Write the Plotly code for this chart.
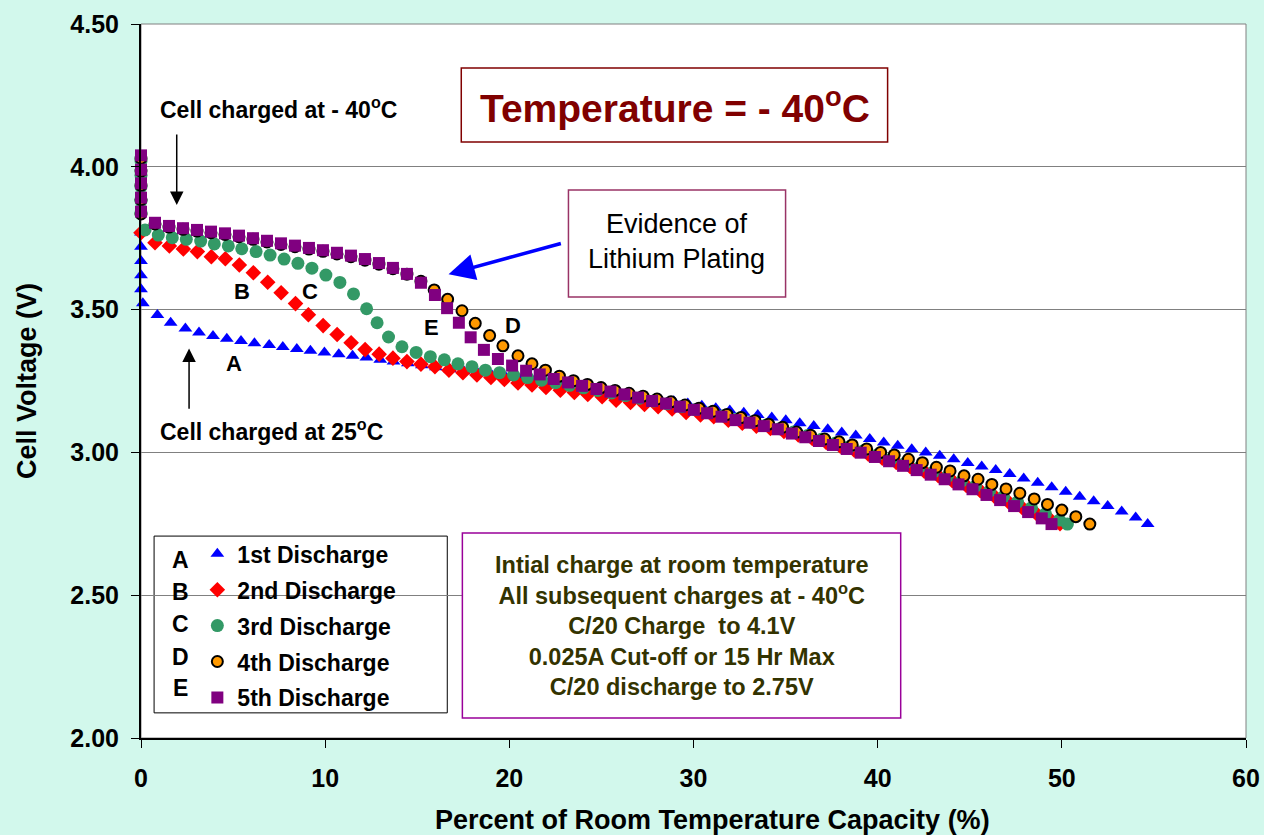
import plotly.graph_objects as go

# ---------------- data ----------------
a_x = [0, 0, 0, 0, 0, 0.10, 0.89, 1.61, 2.41, 3.15, 3.91, 4.66, 5.43, 6.16, 6.96, 7.70, 8.46, 9.20,
       9.96, 10.74, 11.49, 12.24, 12.99, 13.71, 14.49, 15.25, 16.01, 16.77, 17.53, 18.29, 19.05,
       19.81, 20.57, 21.33, 22.09, 22.85, 23.61, 24.37, 25.13, 25.89, 26.65, 27.41, 28.17, 28.93,
       29.69, 30.45, 31.21, 31.97, 32.73, 33.49, 34.25, 35.01, 35.77, 36.53, 37.29, 38.05, 38.81,
       39.57, 40.33, 41.09, 41.85, 42.61, 43.37, 44.13, 44.89, 45.65, 46.41, 47.17, 47.93, 48.69,
       49.45, 50.21, 50.97, 51.73, 52.49, 53.25, 54.01, 54.66]
a_y = [3.770, 3.720, 3.670, 3.620, 3.571, 3.522, 3.481, 3.454, 3.434, 3.420, 3.408, 3.398, 3.390,
       3.382, 3.376, 3.369, 3.362, 3.356, 3.350, 3.344, 3.338, 3.332, 3.324, 3.318, 3.312, 3.305,
       3.298, 3.291, 3.284, 3.277, 3.270, 3.263, 3.256, 3.249, 3.242, 3.235, 3.228, 3.221, 3.214,
       3.207, 3.200, 3.193, 3.186, 3.179, 3.171, 3.163, 3.155, 3.147, 3.139, 3.131, 3.122, 3.113,
       3.102, 3.092, 3.081, 3.070, 3.059, 3.047, 3.035, 3.023, 3.011, 3.000, 2.988, 2.976, 2.963,
       2.951, 2.938, 2.924, 2.909, 2.894, 2.878, 2.862, 2.845, 2.829, 2.812, 2.793, 2.772, 2.749]

b_x = [0, 0.76, 1.54, 2.30, 3.06, 3.82, 4.58, 5.34, 6.10, 6.88, 7.61, 8.39, 9.09, 9.89, 10.65,
       11.41, 12.17, 12.93, 13.68, 14.44, 15.20, 15.96, 16.72, 17.48, 18.24, 19.00, 19.73, 20.47,
       21.23, 21.99, 22.77, 23.53, 24.26, 25.04, 25.80, 26.58, 27.34, 28.08, 28.84, 29.60, 30.38,
       31.10, 31.89, 32.65, 33.41, 34.18, 34.91, 35.69, 36.45, 37.21, 37.97, 38.73, 39.49, 40.25,
       41.01, 41.77, 42.53, 43.29, 44.05, 44.81, 45.57, 46.33, 47.09, 47.85, 48.61, 49.37, 49.90]
b_y = [3.769, 3.734, 3.723, 3.712, 3.703, 3.685, 3.678, 3.656, 3.629, 3.596, 3.559, 3.521, 3.482,
       3.444, 3.413, 3.384, 3.360, 3.344, 3.330, 3.318, 3.309, 3.300, 3.288, 3.279, 3.271, 3.262,
       3.255, 3.243, 3.236, 3.227, 3.218, 3.210, 3.203, 3.195, 3.183, 3.175, 3.168, 3.160, 3.152,
       3.140, 3.131, 3.125, 3.113, 3.102, 3.092, 3.084, 3.073, 3.061, 3.049, 3.035, 3.022, 3.008,
       2.994, 2.980, 2.965, 2.950, 2.934, 2.918, 2.901, 2.884, 2.866, 2.847, 2.827, 2.806, 2.786,
       2.765, 2.750]

c_x = [0, 0, 0, 0, 0, 0.22, 0.94, 1.70, 2.46, 3.24, 3.98, 4.74, 5.47, 6.25, 7.01, 7.77, 8.52, 9.28,
       10.04, 10.80, 11.54, 12.25, 12.82, 13.44, 14.17, 14.94, 15.71, 16.47, 17.21, 17.97, 18.70,
       19.47, 20.23, 20.99, 21.75, 22.51, 23.27, 24.03, 24.79, 25.55, 26.31, 27.07, 27.83, 28.59,
       29.35, 30.11, 30.87, 31.63, 32.39, 33.15, 33.91, 34.67, 35.43, 36.19, 36.95, 37.71, 38.47,
       39.23, 39.99, 40.75, 41.51, 42.27, 43.03, 43.79, 44.55, 45.31, 46.07, 46.83, 47.59, 48.35,
       49.11, 49.87, 50.30]
c_y = [3.840, 3.880, 3.930, 3.970, 4.020, 3.779, 3.761, 3.752, 3.746, 3.740, 3.730, 3.723, 3.713,
       3.703, 3.691, 3.677, 3.662, 3.645, 3.621, 3.595, 3.555, 3.503, 3.454, 3.404, 3.370, 3.350,
       3.335, 3.324, 3.310, 3.300, 3.288, 3.279, 3.271, 3.262, 3.253, 3.244, 3.235, 3.226, 3.217,
       3.208, 3.199, 3.190, 3.180, 3.170, 3.160, 3.150, 3.139, 3.128, 3.117, 3.106, 3.095, 3.083,
       3.071, 3.059, 3.046, 3.033, 3.020, 3.006, 2.992, 2.978, 2.963, 2.948, 2.932, 2.916, 2.899,
       2.882, 2.864, 2.845, 2.826, 2.806, 2.785, 2.763, 2.749]

d_x = [0, 0, 0, 0, 0, 0.76, 1.52, 2.28, 3.04, 3.80, 4.56, 5.32, 6.08, 6.84, 7.60, 8.36, 9.12, 9.88,
       10.64, 11.40, 12.16, 12.92, 13.68, 14.44, 15.20, 15.92, 16.65, 17.43, 18.15, 18.93, 19.65,
       20.47, 21.23, 21.96, 22.72, 23.48, 24.24, 24.98, 25.74, 26.50, 27.26, 28.02, 28.78, 29.54,
       30.30, 31.06, 31.82, 32.58, 33.34, 34.08, 34.84, 35.60, 36.36, 37.12, 37.90, 38.62, 39.40,
       40.16, 40.90, 41.67, 42.43, 43.19, 43.93, 44.69, 45.45, 46.20, 46.97, 47.72, 48.50, 49.22,
       50.00, 50.76, 51.52]
d_y = [3.835, 3.885, 3.935, 3.985, 4.030, 3.800, 3.789, 3.781, 3.775, 3.769, 3.763, 3.755, 3.746,
       3.737, 3.728, 3.720, 3.712, 3.704, 3.695, 3.685, 3.673, 3.659, 3.643, 3.624, 3.599, 3.569,
       3.536, 3.496, 3.452, 3.409, 3.373, 3.338, 3.310, 3.288, 3.267, 3.251, 3.238, 3.227, 3.217,
       3.207, 3.197, 3.187, 3.177, 3.166, 3.155, 3.144, 3.133, 3.122, 3.111, 3.099, 3.088, 3.071,
       3.060, 3.047, 3.037, 3.026, 3.012, 3.000, 2.991, 2.976, 2.964, 2.948, 2.935, 2.918, 2.906,
       2.888, 2.872, 2.857, 2.837, 2.818, 2.798, 2.775, 2.749]

e_x = [0, 0, 0, 0, 0, 0.76, 1.52, 2.28, 3.04, 3.80, 4.56, 5.32, 6.08, 6.84, 7.60, 8.36, 9.12, 9.88,
       10.64, 11.40, 12.16, 12.92, 13.68, 14.44, 15.20, 15.96, 16.62, 17.26, 17.90, 18.62, 19.38,
       20.15, 20.91, 21.65, 22.41, 23.19, 23.95, 24.73, 25.49, 26.25, 26.99, 27.75, 28.51, 29.26,
       30.02, 30.74, 31.52, 32.28, 33.04, 33.82, 34.58, 35.34, 36.07, 36.81, 37.57, 38.32, 39.08,
       39.85, 40.62, 41.38, 42.12, 42.88, 43.64, 44.39, 45.15, 45.91, 46.65, 47.41, 48.17, 48.91,
       49.44]
e_y = [4.040, 3.990, 3.942, 3.892, 3.843, 3.804, 3.793, 3.785, 3.779, 3.773, 3.767, 3.759, 3.750,
       3.741, 3.732, 3.724, 3.716, 3.708, 3.699, 3.689, 3.677, 3.663, 3.646, 3.625, 3.594, 3.551,
       3.505, 3.454, 3.403, 3.359, 3.327, 3.304, 3.286, 3.273, 3.257, 3.245, 3.233, 3.222, 3.213,
       3.203, 3.192, 3.180, 3.171, 3.160, 3.149, 3.137, 3.125, 3.113, 3.104, 3.092, 3.081, 3.066,
       3.053, 3.040, 3.026, 3.012, 2.999, 2.984, 2.969, 2.953, 2.938, 2.922, 2.906, 2.888, 2.871,
       2.851, 2.833, 2.812, 2.791, 2.769, 2.749]

series_names = ["1st Discharge", "2nd Discharge", "3rd Discharge", "4th Discharge", "5th Discharge"]
series_letters = ["A", "B", "C", "D", "E"]
x_ticks = [0, 10, 20, 30, 40, 50, 60]
y_ticks = [2.00, 2.50, 3.00, 3.50, 4.00, 4.50]

# ---------------- figure ----------------
FONT = "Arial, Liberation Sans, sans-serif"
BG = "#d2f8ec"

styles = [
    dict(symbol="triangle-up", size=12, color="#0000ff"),
    dict(symbol="diamond", size=12, color="#ff0000"),
    dict(symbol="circle", size=13, color="#339966"),
    dict(symbol="circle", size=11, color="#ff9900", line=dict(color="black", width=2)),
    dict(symbol="square", size=12, color="#800080"),
]
data = [(a_x, a_y), (b_x, b_y), (c_x, c_y), (d_x, d_y), (e_x, e_y)]

fig = go.Figure()
for (xs, ys), name, st in zip(data, series_names, styles):
    fig.add_trace(go.Scatter(x=xs, y=ys, mode="markers", name=name, marker=st,
                             legendgroup=name, cliponaxis=False))

fig.update_layout(
    width=1264, height=835,
    margin=dict(l=141, r=18, t=24, b=97),
    paper_bgcolor=BG, plot_bgcolor="white",
    font=dict(family=FONT, color="black"),
    showlegend=True,
    legend=dict(x=0.051, y=0.288, xanchor="left", yanchor="top",
                bgcolor="rgba(0,0,0,0)", borderwidth=0,
                font=dict(size=23, weight="bold", family=FONT),
                tracegroupgap=3, itemsizing="trace"),
)

fig.update_xaxes(range=[0, 60], tickvals=x_ticks, ticks="outside", ticklen=8, tickwidth=1,
                 tickcolor="black", showline=True, linecolor="black", linewidth=2,
                 showgrid=False, zeroline=False, automargin=False, ticklabelstandoff=9,
                 tickfont=dict(size=25, weight="bold", family=FONT))
fig.update_yaxes(range=[2.0, 4.5], tickvals=y_ticks, tickformat=".2f", ticks="outside",
                 ticklen=8, tickwidth=1, tickcolor="black", showline=True, linecolor="black",
                 linewidth=2, showgrid=True, gridcolor="#808080", gridwidth=1, zeroline=False,
                 automargin=False, ticklabelstandoff=7,
                 tickfont=dict(size=25, weight="bold", family=FONT),
                 title=dict(text="Cell Voltage (V)",
                            font=dict(size=27, weight="bold", family=FONT), standoff=26))

# x-axis title (placed as in the original, slightly right of centre)
fig.add_annotation(x=0.517, y=-0.1145, xref="paper", yref="paper", yanchor="middle",
                   text="Percent of Room Temperature Capacity (%)", showarrow=False,
                   font=dict(size=27, weight="bold", family=FONT))

# plot border (right side)
fig.add_shape(type="rect", xref="x domain", yref="y domain", x0=0, x1=1, y0=0, y1=1,
              line=dict(color="#808080", width=1), layer="below")

# legend frame and letters
fig.add_shape(type="rect", xref="x", yref="y", x0=0.71, x1=16.63, y0=2.088, y1=2.707,
              line=dict(color="black", width=1), fillcolor="white", layer="below")
letter_y = [2.623, 2.511, 2.399, 2.284, 2.175]
for L, ly in zip(series_letters, letter_y):
    fig.add_annotation(x=2.17, y=ly, text=L, showarrow=False, xref="x", yref="y",
                       font=dict(size=23, weight="bold", family=FONT))

# curve letters
curve_labels = [("A", 5.05, 3.31), ("B", 5.49, 3.562), ("C", 9.18, 3.565),
                ("E", 15.76, 3.436), ("D", 20.22, 3.446)]
for L, lx, ly in curve_labels:
    fig.add_annotation(x=lx, y=ly, text=L, showarrow=False,
                       font=dict(size=22, weight="bold", family=FONT))

# cell charged notes
fig.add_annotation(x=0.92, y=4.206, text="Cell charged at - 40<sup>o</sup>C", showarrow=False,
                   xanchor="left", font=dict(size=23, weight="bold", family=FONT))
fig.add_annotation(x=0.92, y=3.078, text="Cell charged at 25<sup>o</sup>C", showarrow=False,
                   xanchor="left", font=dict(size=23, weight="bold", family=FONT))
# arrows
fig.add_annotation(x=1.94, y=3.866, ax=1.94, ay=4.118, axref="x", ayref="y", xref="x", yref="y",
                   text="", showarrow=True, arrowhead=2, arrowsize=1.8, arrowwidth=1.5,
                   arrowcolor="black")
fig.add_annotation(x=2.61, y=3.364, ax=2.61, ay=3.148, axref="x", ayref="y", xref="x", yref="y",
                   text="", showarrow=True, arrowhead=2, arrowsize=1.8, arrowwidth=1.5,
                   arrowcolor="black")
fig.add_annotation(x=16.7, y=3.624, ax=22.88, ay=3.733, axref="x", ayref="y", xref="x", yref="y",
                   text="", showarrow=True, arrowhead=2, arrowsize=1.5, arrowwidth=3.5,
                   arrowcolor="#0000ff")

# temperature box
fig.add_shape(type="rect", x0=17.39, x1=40.54, y0=4.087, y1=4.346,
              line=dict(color="#800000", width=1.5), fillcolor="white")
fig.add_annotation(x=28.97, y=4.216, text="Temperature = - 40<sup>o</sup>C", showarrow=False,
                   font=dict(size=39, weight="bold", family=FONT, color="#800000"))

# evidence box
fig.add_shape(type="rect", x0=23.21, x1=35.0, y0=3.544, y1=3.919,
              line=dict(color="#993366", width=1.5), fillcolor="white")
fig.add_annotation(x=29.1, y=3.738, text="Evidence of<br>Lithium Plating", showarrow=False,
                   font=dict(size=27, family=FONT, color="black"))

# info box
fig.add_shape(type="rect", x0=17.45, x1=41.25, y0=2.070, y1=2.718,
              line=dict(color="#990099", width=1.5), fillcolor="white")
fig.add_annotation(x=29.35, y=2.392,
                   text=("Intial charge at room temperature<br>"
                         "All subsequent charges at - 40<sup>o</sup>C<br>"
                         "C/20 Charge  to 4.1V<br>"
                         "0.025A Cut-off or 15 Hr Max<br>"
                         "C/20 discharge to 2.75V"),
                   showarrow=False,
                   font=dict(size=23.5, weight="bold", family=FONT, color="#333300"))

fig.write_html("out.html")
